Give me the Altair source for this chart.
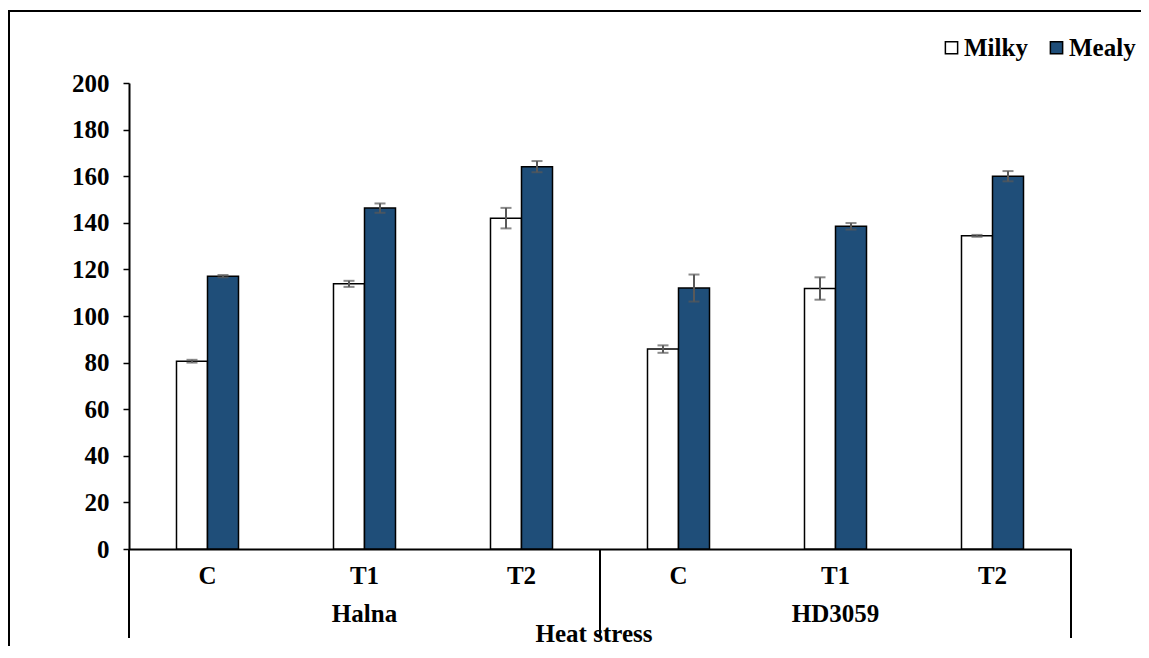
import altair as alt
import pandas as pd

groups = ["Halna", "Halna", "Halna", "HD3059", "HD3059", "HD3059"]
treatments = ["C", "T1", "T2", "C", "T1", "T2"]
series_names = ["Milky", "Mealy"]
milky = [80.6, 113.8, 142.0, 85.8, 111.8, 134.4]
milky_err = [0.6, 1.3, 4.4, 1.6, 4.8, 0.4]
mealy = [117.1, 146.3, 164.1, 112.0, 138.5, 160.0]
mealy_err = [0.5, 2.0, 2.4, 5.8, 1.4, 2.2]
group_names = ["Halna", "HD3059"]
y_ticks = list(range(0, 201, 20))

FONT = "Liberation Serif"
FS = 25

keys = [g + "|" + t for g, t in zip(groups, treatments)]
rows = []
for i, k in enumerate(keys):
    for s, vals, errs in (("Milky", milky, milky_err), ("Mealy", mealy, mealy_err)):
        rows.append({"key": k, "series": s, "value": vals[i],
                     "lo": vals[i] - errs[i], "hi": vals[i] + errs[i]})
df = pd.DataFrame(rows)

W, H = 942, 466

xenc = alt.X("key:N", sort=keys,
             scale=alt.Scale(paddingInner=0.605, paddingOuter=0.3025),
             axis=alt.Axis(labelExpr="split(datum.label,'|')[1]", ticks=False,
                           domainColor="black", domainWidth=2, labelAngle=0,
                           labelFont=FONT, labelFontSize=FS, labelFontWeight="bold",
                           labelColor="black", labelPadding=14, title=None))
xoff = alt.XOffset("series:N", sort=series_names,
                   scale=alt.Scale(paddingInner=0, paddingOuter=0))

base = alt.Chart(df)
bars = base.mark_bar(stroke="black", strokeWidth=1.5).encode(
    x=xenc, xOffset=xoff,
    y=alt.Y("value:Q", scale=alt.Scale(domain=[0, 200], nice=False),
            axis=alt.Axis(values=y_ticks, domainColor="black", domainWidth=2,
                          tickColor="black", tickSize=6, tickWidth=1.5, grid=False,
                          labelFont=FONT, labelFontSize=FS, labelFontWeight="bold",
                          labelColor="black", labelPadding=14, title=None)),
    color=alt.Color("series:N", sort=series_names,
                    scale=alt.Scale(domain=series_names, range=["#ffffff", "#1f4e79"]),
                    legend=alt.Legend(orient="none", legendX=810, legendY=-48,
                                      direction="horizontal", title=None,
                                      symbolType="square", symbolSize=150,
                                      symbolStrokeColor="black", symbolStrokeWidth=1.5,
                                      labelFont=FONT, labelFontSize=FS,
                                      labelFontWeight="bold", labelColor="black",
                                      columnPadding=16, labelOffset=0)),
)
err = base.mark_rule(color="#595959", strokeWidth=2).encode(
    x=alt.X("key:N", sort=keys), xOffset=xoff, y="lo:Q", y2="hi:Q")
cap_lo = base.mark_tick(color="#595959", thickness=2, size=11).encode(
    x=alt.X("key:N", sort=keys), xOffset=xoff, y="lo:Q")
cap_hi = base.mark_tick(color="#595959", thickness=2, size=11).encode(
    x=alt.X("key:N", sort=keys), xOffset=xoff, y="hi:Q")

main = alt.layer(bars, err, cap_lo, cap_hi)

div_df = pd.DataFrame({"pos": [0, 3, 6]})
dividers = alt.Chart(div_df).mark_rule(color="black", strokeWidth=2).encode(
    x=alt.X("pos:Q", scale=alt.Scale(domain=[0, 6]), axis=None),
    y=alt.value(H), y2=alt.value(H + 89))

lab_df = pd.DataFrame({"pos": [1.5, 4.5], "label": group_names})
group_labels = alt.Chart(lab_df).mark_text(
    font=FONT, fontSize=FS, fontWeight="bold", color="black", baseline="middle").encode(
    x=alt.X("pos:Q", scale=alt.Scale(domain=[0, 6]), axis=None),
    y=alt.value(H + 65), text="label:N")

title_df = pd.DataFrame({"t": ["Heat stress"]})
title = alt.Chart(title_df).mark_text(
    font=FONT, fontSize=FS, fontWeight="bold", color="black", baseline="alphabetic").encode(
    x=alt.value(W / 2 - 6), y=alt.value(H + 93), text="t:N")

border = alt.Chart(pd.DataFrame({"a": [0]})).mark_rect(
    fill="transparent", stroke="black", strokeWidth=2).encode(
    x=alt.value(-120), x2=alt.value(1040), y=alt.value(-72), y2=alt.value(700))

chart = alt.layer(main, dividers, group_labels, title, border).resolve_scale(
    x="independent"
).properties(
    width=W, height=H, background="white",
    padding={"left": 121, "top": 75, "right": 70, "bottom": 97},
    autosize=alt.AutoSizeParams(type="none"),
).configure_view(strokeWidth=0, stroke="transparent")

chart.save("out.html", embed_options={"renderer": "svg", "actions": False})
